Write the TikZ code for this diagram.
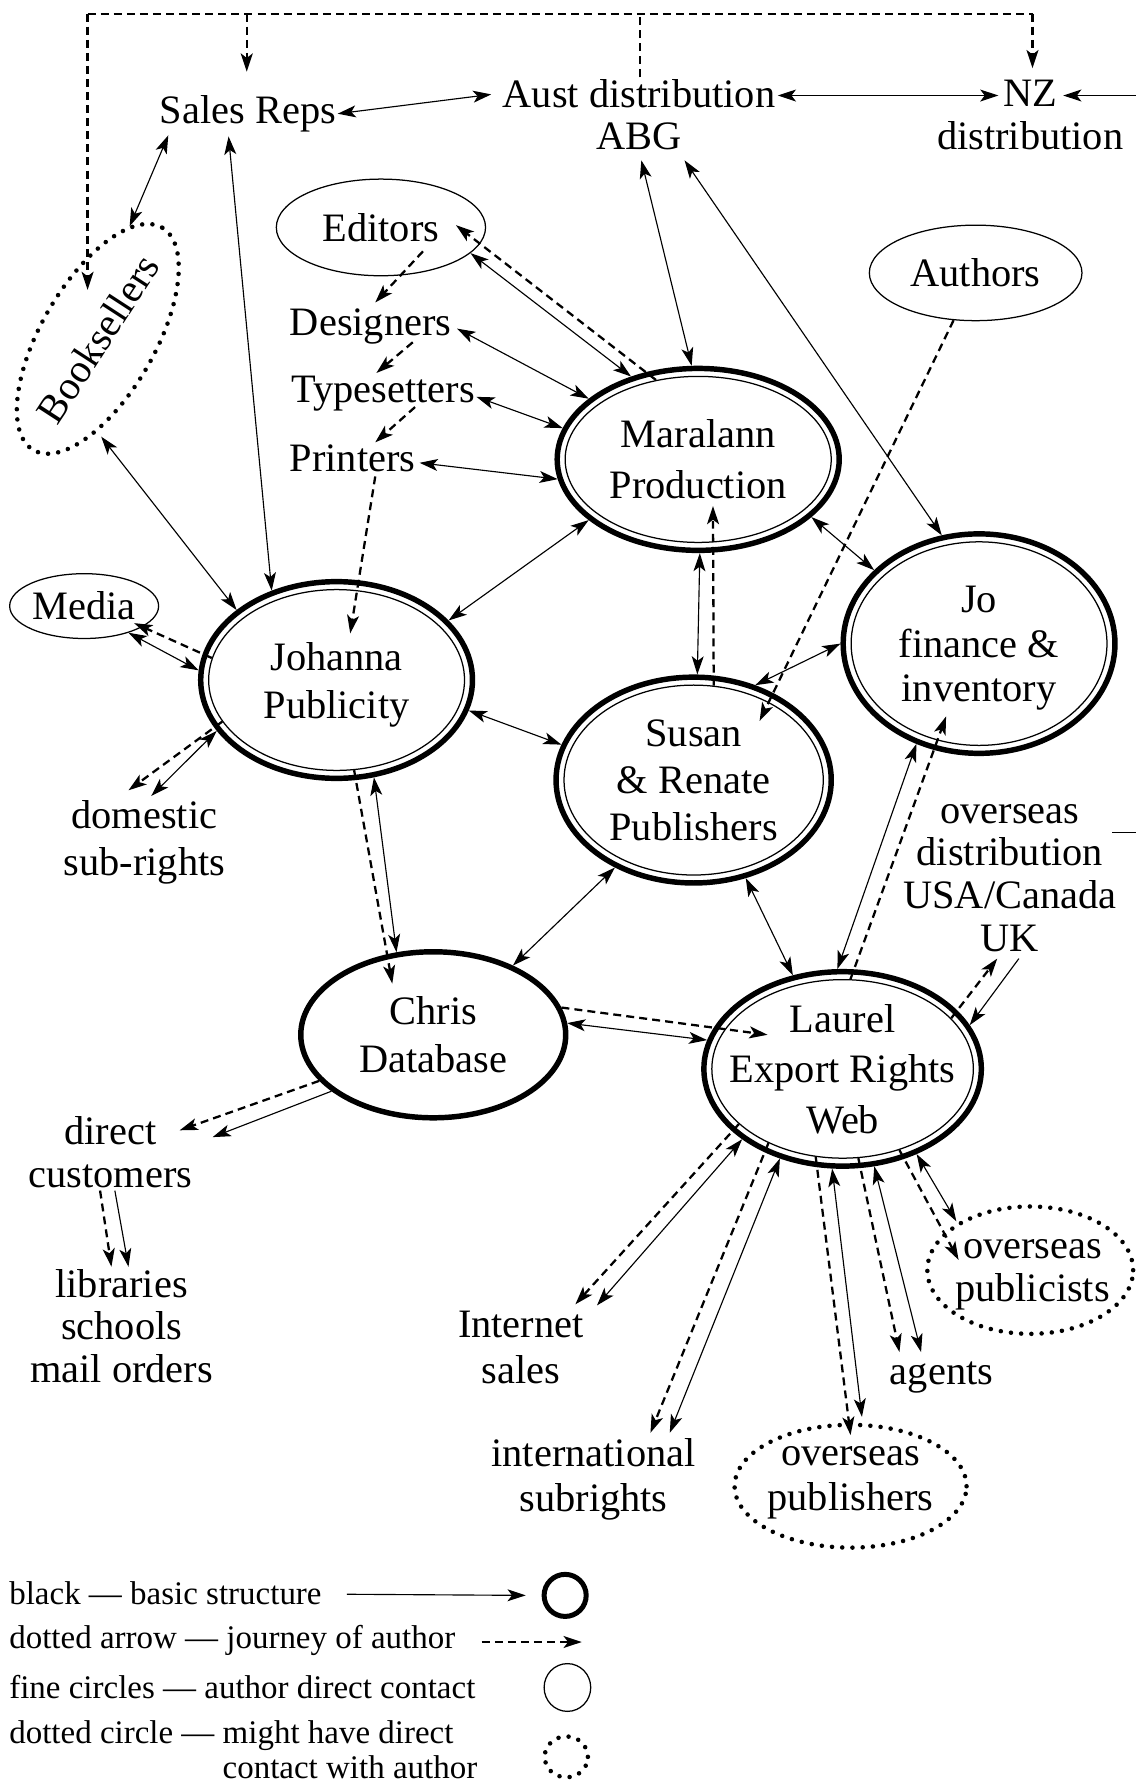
\documentclass[tikz,border=0pt]{standalone}
\usepackage{fontspec}
\setmainfont{Liberation Serif}
\usetikzlibrary{arrows.meta,shapes.geometric,calc}

\tikzset{
  lbl/.style={font=\fontsize{35.5}{#1}\selectfont, align=center, inner sep=0pt},
  lbl/.default=40,
  key/.style={font=\fontsize{29}{31}\selectfont, align=left, inner sep=0pt, anchor=west},
  thickring/.style={ellipse, draw, line width=4.8pt, inner sep=0pt},
  innerring/.style={ellipse, draw, line width=1.1pt, inner sep=0pt},
  finering/.style={ellipse, draw, line width=1.1pt, inner sep=0pt},
  dotring/.style={ellipse, draw, line width=4pt, line cap=round, dash pattern=on 0pt off 9pt, inner sep=0pt},
  sol/.style={line width=1pt},
  dsh/.style={line width=2pt, dash pattern=on 7pt off 4.5pt},
  >={Stealth[length=16pt,width=10.5pt,inset=4pt]}
}

\begin{document}
\begin{tikzpicture}[x=1pt, y=-1pt]
\useasboundingbox (0,0) rectangle (999,1568);

% ---------- text-only nodes ----------
\node[lbl] (sales) at (218,100) {Sales Reps};
\node[lbl=37] (aust) at (562,101) {Aust distribution\\ABG};
\node[lbl=38] (nz) at (906,101) {NZ\\distribution};
\node[lbl] (des) at (326,287) {Designers};
\node[lbl] (typ) at (337,346) {Typesetters};
\node[lbl] (pri) at (310,403) {Printers};
\node[lbl=41] (dom) at (127,741) {domestic\\sub-rights};
\node[lbl=38] (dir) at (97,1013) {direct\\customers};
\node[lbl=37.5] (lib) at (107,1166) {libraries\\schools\\mail orders};
\node[lbl=37.5] (ovd) at (888,772) {overseas\\distribution\\USA/Canada\\UK};
\node[lbl] (int) at (458,1185) {Internet\\sales};
\node[lbl] (intl) at (522,1301) {international\\subrights};
\node[lbl] (agt) at (828,1211) {agents};

% ---------- fine (author contact) ellipses ----------
\node[finering, minimum width=184pt, minimum height=85pt] (edi) at (335,200) {};
\node[lbl] at (edi) {Editors};
\node[finering, minimum width=187pt, minimum height=84pt] (aut) at (858,240) {};
\node[lbl] at (aut) {Authors};
\node[finering, minimum width=131pt, minimum height=57pt] (med) at (74,533) {};
\node[lbl] at (med) {Media};

% ---------- basic structure: double rings ----------
\node[thickring, minimum width=248pt, minimum height=160pt] (mar) at (614,404) {};
\node[innerring, minimum width=234pt, minimum height=146pt] (mar-i) at (mar) {};
\node[lbl=45] at (mar) {Maralann\\Production};

\node[thickring, minimum width=239pt, minimum height=193pt] (jo) at (861,566) {};
\node[innerring, minimum width=225pt, minimum height=179pt] (jo-i) at (jo) {};
\node[lbl=39.5] at ($(jo)+(0,4)$) {Jo\\finance \&\\inventory};

\node[thickring, minimum width=239pt, minimum height=173pt] (joh) at (296,598) {};
\node[innerring, minimum width=225pt, minimum height=159pt] (joh-i) at (joh) {};
\node[lbl=42] at ($(joh)+(0,4)$) {Johanna\\Publicity};

\node[thickring, minimum width=242pt, minimum height=181pt] (sus) at (610,686) {};
\node[innerring, minimum width=228pt, minimum height=167pt] (sus-i) at (sus) {};
\node[lbl=41.5] at (sus) {Susan\\\& Renate\\Publishers};

\node[thickring, minimum width=244pt, minimum height=171pt] (lau) at (741,940) {};
\node[innerring, minimum width=230pt, minimum height=157pt] (lau-i) at (lau) {};
\node[lbl=44.5] at (lau) {Laurel\\Export Rights\\Web};

\node[thickring, minimum width=233pt, minimum height=146pt] (chr) at (381,910) {};
\node[lbl=42] at (chr) {Chris\\Database};

% ---------- dotted (possible contact) ellipses ----------
\node[dotring, rotate=60, minimum width=226pt, minimum height=100pt] (book) at (86,298) {};
\node[lbl, rotate=57] at (book) {Booksellers};
\node[dotring, minimum width=204pt, minimum height=108pt] (opub) at (748,1307) {};
\node[lbl] at ($(opub)+(0,-3)$) {overseas\\publishers};
\node[dotring, minimum width=181pt, minimum height=112pt] (opcs) at (906,1117) {};
\node[lbl=38] at ($(opcs)+(2,4)$) {overseas\\publicists};

% ---------- dashed distribution tree along the top ----------
\coordinate (t1) at (77,12);
\coordinate (t2) at (217,12);
\coordinate (t3) at (563,12);
\coordinate (t4) at (908,12);
\draw[dsh] ($(aust)+(1,-33)$) -- (t3);
\draw[dsh] (t1) -- (t4);
\draw[dsh,->] (t1) -- ($(book)+(-9,-43)$);
\draw[dsh,->] (t2) -- ($(sales)+(-1,-37)$);
\draw[dsh,->] (t4) -- ($(nz)+(2,-41)$);

% ---------- distribution links ----------
\draw[sol,<->] ($(sales)+(79,0)$) -- ($(aust)+(-130,-18)$);
\draw[sol,<->] ($(aust)+(122,-17)$) -- ($(nz)+(-28,-17)$);
\coordinate (nzfeed) at (999,84);
\draw[sol,->] (nzfeed) -- ($(nz)+(29,-17)$);
\draw[sol,<->] ($(sales)+(-70,19)$) -- ($(book)+(28,-99)$);
\draw[sol,<->] ($(sales)+(-17,20)$) -- (joh.126);
\draw[sol,<->] ($(book)+(3,86)$) -- (joh.145);
\draw[sol,<->] ($(aust)+(2,40)$) -- (mar.94);
\draw[sol,<->] ($(aust)+(40,40)$) -- (jo.109);

% ---------- production chain ----------
\draw[dsh,->] ($(edi)+(37,21)$) -- ($(des)+(4,-21)$);
\draw[dsh,->] ($(des)+(37,14)$) -- ($(typ)+(-6,-18)$);
\draw[dsh,->] ($(typ)+(28,12)$) -- ($(pri)+(20,-14)$);
\draw[dsh,->] ($(pri)+(20,16)$) -- ($(joh)+(12,-41)$);
\draw[sol,<->] (edi.-16) -- (mar.129);
\draw[dsh,->] (mar-i.118) -- ($(edi)+(66,-2)$);
\draw[sol,<->] ($(des)+(76,2)$) -- (mar.151);
\draw[sol,<->] ($(typ)+(82,3)$) -- (mar.167);
\draw[sol,<->] ($(pri)+(59,4)$) -- (mar.188);

% ---------- links between the core people ----------
\draw[dsh,->] (aut.-115) -- ($(sus)+(58,-52)$);
\draw[sol,<->] (mar.-27) -- (jo.145);
\draw[sol,<->] (mar.-89) -- (sus.88);
\draw[dsh,->] (sus-i.78) -- ($(mar)+(13,41)$);
\draw[sol,<->] (mar.209) -- (joh.28);
\draw[sol,<->] (sus.57) -- (jo.180);
\draw[sol,<->] (jo.238.5) -- (lau.93);
\draw[dsh,->] (lau-i.85) -- ($(jo)+(-29,64)$);
\draw[sol,<->] (joh.176) -- (med.-31);
\draw[dsh,->] (joh-i.170) -- ($(med)+(44,15)$);
\draw[sol,<->] (joh.203) -- ($(dom)+(6,-41)$);
\draw[dsh,->] (joh-i.200) -- ($(dom)+(-14,-46)$);
\draw[sol,<->] (joh.-13) -- (sus.165);
\draw[sol,<->] (joh.-69) -- (chr.114);
\draw[dsh,->] (joh-i.-79) -- ($(chr)+(-36,-45)$);
\draw[sol,<->] (sus.228) -- (chr.41);
\draw[sol,<->] (sus.-62) -- (lau.118);

% ---------- Chris: database and direct sales ----------
\draw[dsh,->] (chr.202) -- ($(dir)+(61,-19)$);
\draw[sol,->] (chr.209) -- ($(dir)+(90,-13)$);
\draw[sol,<->] (chr.5) -- (lau.168);
\draw[dsh,->] (chr.12) -- ($(lau)+(-66,-30)$);
\draw[dsh,->] ($(dir)+(-9,34)$) -- ($(lib)+(-9,-52)$);
\draw[sol,->] ($(dir)+(4,34)$) -- ($(lib)+(6,-52)$);

% ---------- Laurel: export and rights ----------
\draw[dsh,->] (lau-i.25) -- ($(ovd)+(-11,71)$);
\draw[sol,->] ($(ovd)+(8,71)$) -- (lau.19.5);
\coordinate (ovdfeed) at (999,732);
\draw[sol] ($(ovd)+(90,-40)$) -- (ovdfeed);
\draw[dsh,->] (lau-i.208) -- ($(int)+(48,-38)$);
\draw[sol,<->] (lau.215) -- ($(int)+(67,-37)$);
\draw[dsh,->] (lau-i.225) -- ($(intl)+(50,-41)$);
\draw[sol,<->] (lau.235) -- ($(intl)+(67,-41)$);
\draw[dsh,->] (lau-i.253) -- ($(opub)+(0,-45)$);
\draw[sol,<->] (lau.264) -- ($(opub)+(10,-61)$);
\draw[dsh,->] (lau-i.280) -- ($(agt)+(-37,-22)$);
\draw[sol,<->] (lau.288) -- ($(agt)+(-18,-22)$);
\draw[dsh,->] (lau-i.305) -- ($(opcs)+(-63,-9)$);
\draw[sol,<->] (lau.311) -- ($(opcs)+(-65,-43)$);

% ---------- key ----------
\node[key] (k1) at (8,1401) {black — basic structure};
\node[key] (k2) at (8,1443) {dotted arrow — journey of author};
\node[key] (k3) at (8,1484) {fine circles — author direct contact};
\node[key] (k4) at (8,1539) {dotted circle — might have direct\\\phantom{dotted circle — }contact with author};
\node[thickring, line width=4.4pt, minimum width=37pt, minimum height=37pt] (s1) at (497,1403) {};
\node[finering, minimum width=41pt, minimum height=42pt] (s3) at (499,1484) {};
\node[dotring, minimum width=38pt, minimum height=36pt] (s4) at (498,1545) {};
\draw[sol,->] ($(k1.east)+(22,1)$) -- ($(s1.west)+(-14,0)$);
\draw[dsh,->] ($(k2.east)+(23,1)$) -- ($(k2.east)+(111,1)$);
\end{tikzpicture}
\end{document}
